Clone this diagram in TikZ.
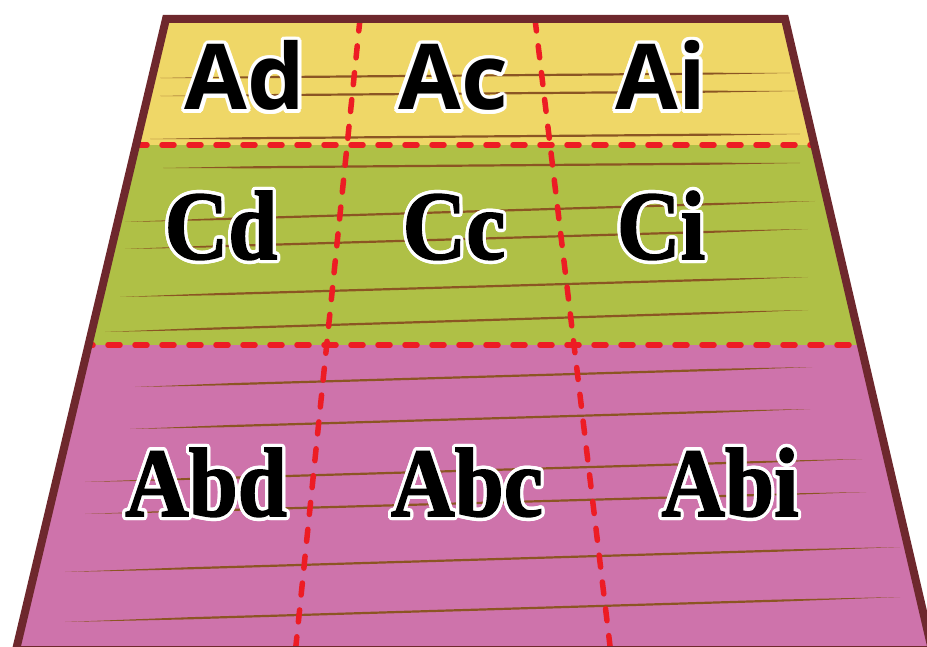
\documentclass[tikz,border=0pt]{standalone}
\usepackage{fontspec}
\usepackage{xcolor}
\usepackage{tikz}
\usetikzlibrary{calc, positioning}
\newfontfamily\plotsans{Open Sans}
\newfontfamily\plotserif{Liberation Serif}[BoldFeatures={FakeBold=1.6}]
\definecolor{rimbrown}{HTML}{6E282D}
\definecolor{bandyellow}{HTML}{EFD767}
\definecolor{bandgreen}{HTML}{AFC046}
\definecolor{bandpink}{HTML}{CE73AB}
\definecolor{divred}{HTML}{ED1C24}
\definecolor{furrowbrown}{HTML}{8B5523}
\newlength\halowd
\setlength\halowd{3.5pt}
\newcommand\halo[1]{%
  \rlap{\foreach \ha in {0,20,...,340}{%
    \pgfmathsetlengthmacro\hx{\halowd*cos(\ha)}%
    \pgfmathsetlengthmacro\hy{\halowd*sin(\ha)}%
    \rlap{\hspace*{\hx}\raisebox{\hy}{\color{white}#1}}}}%
  #1}

\begin{document}
\begin{tikzpicture}[x=1pt, y=-1pt]
        \tikzstyle{rim} = [draw=rimbrown, line width=8pt, line join=miter]
        \tikzstyle{divider} = [draw=divred, line width=5.5pt, line cap=round, dash pattern=on 12pt off 15pt]
        \tikzstyle{furrow} = [fill=furrowbrown]
        \tikzstyle{toplabel} = [anchor=base, inner sep=0pt, font=\plotsans\bfseries\fontsize{91}{100}\selectfont]
        \tikzstyle{rowlabel} = [anchor=base, inner sep=0pt, font=\plotserif\bfseries\fontsize{98}{108}\selectfont]

        \useasboundingbox (0,0) rectangle (927,647);

        % Corners of the plot
        \coordinate (nw) at (166,19);
        \coordinate (ne) at (785,19);
        \coordinate (se) at (932,650);
        \coordinate (sw) at (16,650);

        % Ends of the two slanted dividers
        \coordinate (lefttop) at (360,19);
        \coordinate (leftbot) at (295.5,650);
        \coordinate (righttop) at (535,19);
        \coordinate (rightbot) at (610.5,650);

        \begin{scope}
          \clip (nw) -- (ne) -- (se) -- (sw) -- cycle;
          % Bands
          \fill[bandyellow] (0,0) rectangle (940,145);
          \fill[bandgreen] (0,145) rectangle (940,345);
          \fill[bandpink] (0,345) rectangle (940,660);

          % Furrows
          \foreach \xa/\ya/\xb/\yb in {160/78/790/73, 160/96/795/91, 150/139/800/134,
                                       163/168/800/163, 125/222/815/201, 125/249/808/229,
                                       120/297/808/277, 105/332/808/310,
                                       135/387/812/367, 130/429/810/409, 85/482/862/459,
                                       85/514/866/492, 65/572/900/547, 65/622/900/597}
            \fill[furrow] (\xa,\ya) -- ($(\xa,\ya)!.15!(\xb,\yb)+(0,-1.1)$)
                          -- ($(\xa,\ya)!.85!(\xb,\yb)+(0,-1.1)$) -- (\xb,\yb)
                          -- ($(\xa,\ya)!.85!(\xb,\yb)+(0,1.1)$)
                          -- ($(\xa,\ya)!.15!(\xb,\yb)+(0,1.1)$) -- cycle;

          % Dividers
          \draw[divider] (lefttop) -- (leftbot);
          \draw[divider] (righttop) -- (rightbot);
          \draw[divider] (0,145) -- (940,145);
          \draw[divider] (0,345) -- (940,345);
        \end{scope}

        % Rim
        \draw[rim] (nw) -- (ne) -- (se) -- (sw) -- cycle;

        % Top row
        \node (ad) [toplabel] at (245,110) {\halo{Ad}};
        \node (ac) [toplabel] at (453,110) {\halo{Ac}};
        \node (ai) [toplabel] at (661,110) {\halo{Ai}};

        % Middle row
        \node (cd) [rowlabel] at (221,259) {\scalebox{0.9}[1]{\halo{Cd}}};
        \node (cc) [rowlabel] at (454,259) {\scalebox{0.9}[1]{\halo{Cc}}};
        \node (ci) [rowlabel] at (661,259) {\scalebox{0.9}[1]{\halo{Ci}}};

        % Bottom row
        \node (abd) [rowlabel] at (206,516) {\scalebox{0.9}[1]{\halo{Abd}}};
        \node (abc) [rowlabel] at (467,516) {\scalebox{0.9}[1]{\halo{Abc}}};
        \node (abi) [rowlabel] at (730,516) {\scalebox{0.9}[1]{\halo{Abi}}};
    \end{tikzpicture}
\end{document}
